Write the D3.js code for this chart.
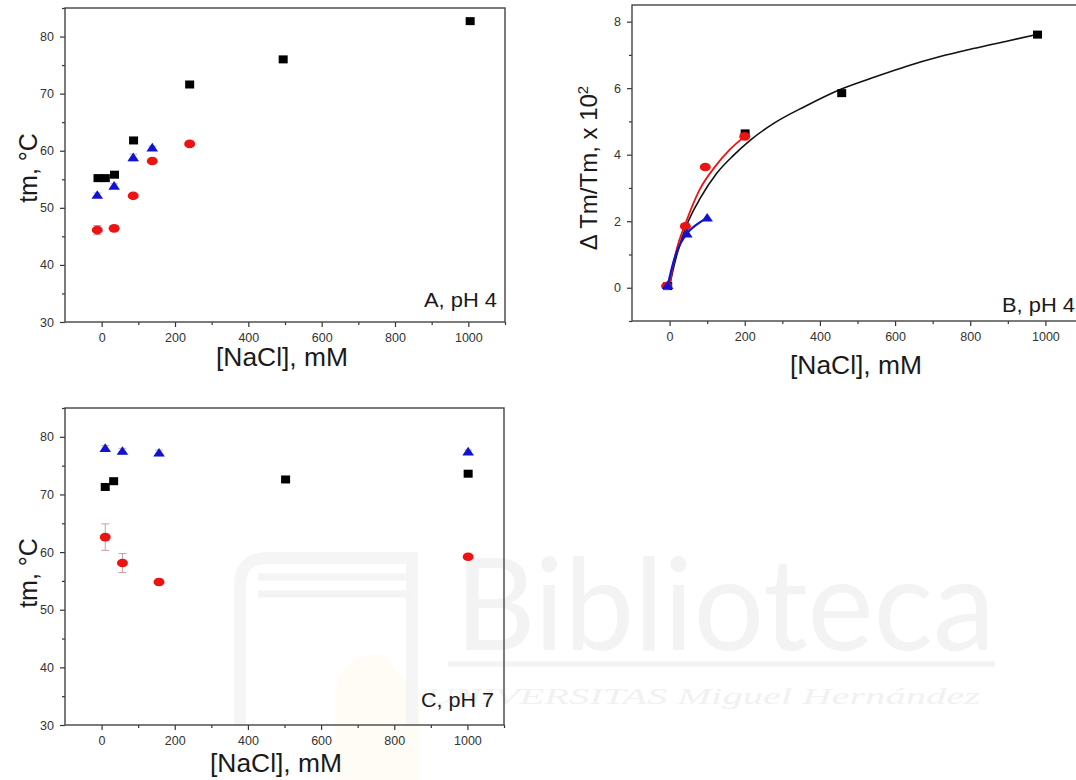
<!DOCTYPE html>
<html><head><meta charset="utf-8">
<script src="https://cdn.jsdelivr.net/npm/d3@7"></script>
<style>
body{margin:0;background:#fff}
svg{display:block}
text{font-family:"Liberation Sans",Arial,sans-serif}
</style>
</head><body>
<svg id="fig" width="1076" height="780"></svg>
<script>
// ---- Panel A (pH 4): melting temperature vs [NaCl] ----
const aSquareX   = [-10, 10, 35, 87, 240, 495, 1005];
const aSquareY   = [55.2, 55.2, 55.8, 61.8, 71.6, 76.0, 82.7];
const aSquareErr = [0.6, 0.6, 0.3, 0.3, 0.3, 0.3, 0.3];
const aTriangleX = [-12, 34, 86, 138];
const aTriangleY = [52.2, 53.8, 58.8, 60.5];
const aTriangleErr = [0.4, 0.4, 0.6, 0.3];
const aCircleX   = [-12, 34, 86, 138, 240];
const aCircleY   = [46.1, 46.4, 52.1, 58.2, 61.2];
const aCircleErr = [0.8, 0.4, 0.3, 0.3, 0.3];

// ---- Panel B (pH 4): relative change of Tm ----
const bSquareX   = [-5, 201, 458, 979];
const bSquareY   = [0.05, 4.64, 5.85, 7.61];
const bCircleX   = [-8, 42, 95, 200];
const bCircleY   = [0.05, 1.85, 3.63, 4.55];
const bTriangleX = [-5, 46, 100];
const bTriangleY = [0.07, 1.62, 2.1];
// fitted curves
const bBlackFitX = [0, 10, 20, 45, 82, 126, 170, 215, 277, 360, 454, 550, 631, 720, 808, 900, 980];
const bBlackFitY = [0.05, 0.57, 1.02, 1.87, 2.7, 3.45, 3.98, 4.44, 4.94, 5.45, 5.96, 6.35, 6.66, 6.95, 7.19, 7.42, 7.62];
const bRedFitX   = [0, 8, 20, 42, 80, 121, 160, 200];
const bRedFitY   = [0.05, 0.6, 1.2, 1.92, 2.95, 3.64, 4.15, 4.55];
const bBlueFitX  = [-5, 5, 15, 30, 46, 70, 100];
const bBlueFitY  = [0.05, 0.55, 0.95, 1.35, 1.63, 1.88, 2.1];

// ---- Panel C (pH 7): melting temperature vs [NaCl] ----
const cTriangleX = [10, 57, 157, 1002];
const cTriangleY = [78.0, 77.5, 77.2, 77.4];
const cTriangleErr = [0.5, 0.5, 0.5, 0.3];
const cSquareX   = [10, 33, 503, 1002];
const cSquareY   = [71.3, 72.3, 72.6, 73.6];
const cCircleX   = [10, 57, 157, 1002];
const cCircleY   = [62.6, 58.1, 54.8, 59.2];
const cCircleErr = [2.3, 1.65, 0.5, 0.4];

// axis ticks
const xMajor = [0, 200, 400, 600, 800, 1000];
const xMinor = [100, 300, 500, 700, 900, 1100];
const tmMajor = [30, 40, 50, 60, 70, 80];
const tmMinor = [35, 45, 55, 65, 75, 85];
const dMajor = [0, 2, 4, 6, 8];
const dMinor = [-1, 1, 3, 5, 7];

const BLACK = "#000", RED = "#ec1313", BLUE = "#1212d2";
const svg = d3.select("#fig");

// ---- faint library watermark in the background ----
const wm = svg.append("g").attr("class", "watermark");
wm.append("path")
  .attr("d", "M335,780 L335,690 Q345,650 385,655 L420,700 L420,780 Z")
  .attr("fill", "#fefcf4");
wm.append("path")
  .attr("d", "M240,725 V585 Q240,558 268,558 H412 V725")
  .attr("fill", "none").attr("stroke", "#f5f5f5").attr("stroke-width", 12);
[577, 594].forEach(yy => wm.append("line")
  .attr("x1", 258).attr("x2", 412).attr("y1", yy).attr("y2", yy)
  .attr("stroke", "#f4f4f4").attr("stroke-width", 7));
wm.append("text").text("Biblioteca")
  .attr("x", 455).attr("y", 650)
  .attr("textLength", 540).attr("lengthAdjust", "spacingAndGlyphs")
  .style("font-family", "Lato, 'Open Sans', sans-serif").style("font-weight", 400)
  .style("font-size", "128px").attr("fill", "#f3f3f3");
wm.append("line").attr("x1", 448).attr("x2", 995).attr("y1", 664).attr("y2", 664)
  .attr("stroke", "#f3f3f3").attr("stroke-width", 5);
wm.append("text").text("UNIVERSITAS Miguel Hernández")
  .attr("x", 425).attr("y", 704)
  .attr("textLength", 555).attr("lengthAdjust", "spacingAndGlyphs")
  .style("font-family", "'Liberation Serif', serif").style("font-style", "italic")
  .style("font-size", "24px").attr("fill", "#f1f1f1");

// ---- helpers ----
function panel(box, xDomain, yDomain, yMajor, yMinor) {
  const x = d3.scaleLinear().domain(xDomain).range([box.left, box.right]);
  const y = d3.scaleLinear().domain(yDomain).range([box.bottom, box.top]);
  const g = svg.append("g");
  // minor ticks
  g.append("g").attr("transform", `translate(0,${box.bottom})`)
    .call(d3.axisBottom(x).tickValues(xMinor).tickSize(3).tickFormat(""))
    .call(a => a.select(".domain").remove());
  g.append("g").attr("transform", `translate(${box.left},0)`)
    .call(d3.axisLeft(y).tickValues(yMinor).tickSize(3).tickFormat(""))
    .call(a => a.select(".domain").remove());
  // major ticks with labels
  const xa = g.append("g").attr("transform", `translate(0,${box.bottom})`)
    .call(d3.axisBottom(x).tickValues(xMajor).tickSize(5).tickPadding(6).tickFormat(d3.format("d")));
  const ya = g.append("g").attr("transform", `translate(${box.left},0)`)
    .call(d3.axisLeft(y).tickValues(yMajor).tickSize(5).tickPadding(6).tickFormat(d3.format("d")));
  [xa, ya].forEach(a => {
    a.select(".domain").remove();
    a.selectAll("text").attr("fill", "#333").style("font-size", "12.5px")
      .style("font-family", "'Liberation Sans', Arial, sans-serif");
  });
  g.selectAll(".tick line").attr("stroke", "#333").attr("stroke-width", 1.2);
  // frame
  g.append("rect").attr("x", box.left).attr("y", box.top)
    .attr("width", box.right - box.left).attr("height", box.bottom - box.top)
    .attr("fill", "none").attr("stroke", "#444").attr("stroke-width", 1.4);
  return {x, y, g};
}

function errorBars(p, xs, ys, es, color) {
  xs.forEach((xv, i) => {
    const cx = p.x(xv), y1 = p.y(ys[i] - es[i]), y2 = p.y(ys[i] + es[i]);
    const e = p.g.append("g").attr("stroke", color).attr("stroke-width", 1);
    e.append("line").attr("x1", cx).attr("x2", cx).attr("y1", y1).attr("y2", y2);
    e.append("line").attr("x1", cx - 4).attr("x2", cx + 4).attr("y1", y1).attr("y2", y1);
    e.append("line").attr("x1", cx - 4).attr("x2", cx + 4).attr("y1", y2).attr("y2", y2);
  });
}
function squares(p, xs, ys) {
  p.g.selectAll(null).data(xs).join("rect")
    .attr("x", (d) => p.x(d) - 4.5).attr("y", (d, i) => p.y(ys[i]) - 4)
    .attr("width", 9).attr("height", 8).attr("fill", BLACK);
}
function circles(p, xs, ys) {
  p.g.selectAll(null).data(xs).join("ellipse")
    .attr("cx", d => p.x(d)).attr("cy", (d, i) => p.y(ys[i]))
    .attr("rx", 5.5).attr("ry", 4.3).attr("fill", RED);
}
function triangles(p, xs, ys) {
  p.g.selectAll(null).data(xs).join("path")
    .attr("d", (d, i) => {
      const cx = p.x(d), cy = p.y(ys[i]);
      return `M${cx - 5.8},${cy + 3.6} L${cx + 5.8},${cy + 3.6} L${cx},${cy - 5} Z`;
    })
    .attr("fill", BLUE);
}
function fitLine(p, xs, ys, color, w) {
  const line = d3.line().x(d => p.x(d[0])).y(d => p.y(d[1])).curve(d3.curveMonotoneX);
  p.g.append("path").datum(xs.map((v, i) => [v, ys[i]]))
    .attr("d", line).attr("fill", "none").attr("stroke", color).attr("stroke-width", w);
}
function title(txt, x, y, size, rot, anchor) {
  const t = svg.append("text").attr("transform", `translate(${x},${y}) rotate(${rot || 0})`)
    .attr("text-anchor", anchor || "middle").attr("fill", "#1a1a1a")
    .style("font-size", size + "px");
  return t.text(txt);
}

// ---- Panel A ----
const pA = panel({left: 65, right: 505, top: 8, bottom: 322}, [-100, 1100], [30, 85], tmMajor, tmMinor);
errorBars(pA, aSquareX, aSquareY, aSquareErr, "#bbb");
errorBars(pA, aCircleX, aCircleY, aCircleErr, "#c9a0a0");
errorBars(pA, aTriangleX, aTriangleY, aTriangleErr, "#bbb");
squares(pA, aSquareX, aSquareY);
triangles(pA, aTriangleX, aTriangleY);
circles(pA, aCircleX, aCircleY);
title("tm, °C", 37, 168, 25, -90);
title("[NaCl], mM", 282, 366, 25).attr("textLength", 132).attr("lengthAdjust", "spacingAndGlyphs");
title("A, pH 4", 497, 307, 20, 0, "end").attr("textLength", 73).attr("lengthAdjust", "spacingAndGlyphs");

// ---- Panel B ----
const pB = panel({left: 632, right: 1083, top: 5, bottom: 321}, [-100, 1100], [-1, 8.5], dMajor, dMinor);
fitLine(pB, bBlackFitX, bBlackFitY, "#111", 1.6);
fitLine(pB, bRedFitX, bRedFitY, RED, 1.8);
fitLine(pB, bBlueFitX, bBlueFitY, BLUE, 2.2);
squares(pB, bSquareX, bSquareY);
circles(pB, bCircleX, bCircleY);
triangles(pB, bTriangleX, bTriangleY);
const tB = svg.append("text").attr("transform", "translate(597,168) rotate(-90)")
  .attr("text-anchor", "middle").attr("fill", "#1a1a1a").style("font-size", "24px");
tB.append("tspan").text("Δ Tm/Tm, x 10");
tB.append("tspan").text("2").attr("dy", -9).style("font-size", "15px");
title("[NaCl], mM", 856, 374, 25).attr("textLength", 132).attr("lengthAdjust", "spacingAndGlyphs");
title("B, pH 4", 1075, 312, 20, 0, "end").attr("textLength", 73).attr("lengthAdjust", "spacingAndGlyphs");

// ---- Panel C ----
const pC = panel({left: 65, right: 504, top: 408, bottom: 725}, [-100, 1100], [30, 85], tmMajor, tmMinor);
errorBars(pC, cCircleX, cCircleY, cCircleErr, "#c9a0a0");
errorBars(pC, cTriangleX, cTriangleY, cTriangleErr, "#bbb");
squares(pC, cSquareX, cSquareY);
triangles(pC, cTriangleX, cTriangleY);
circles(pC, cCircleX, cCircleY);
title("tm, °C", 37, 573, 25, -90);
title("[NaCl], mM", 276, 772, 25).attr("textLength", 132).attr("lengthAdjust", "spacingAndGlyphs");
title("C, pH 7", 494, 707, 20, 0, "end").attr("textLength", 73).attr("lengthAdjust", "spacingAndGlyphs");
</script>
</body></html>
